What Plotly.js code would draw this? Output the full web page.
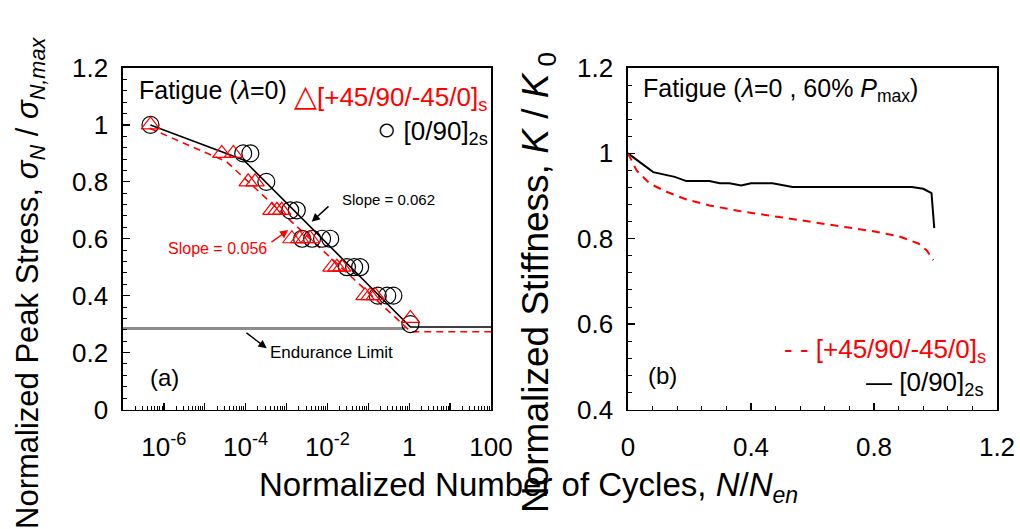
<!DOCTYPE html>
<html>
<head>
<meta charset="utf-8">
<script src="https://cdn.plot.ly/plotly-3.0.1.min.js"></script>
<style>html,body{margin:0;padding:0;background:#fff;}#chart{width:1020px;height:529px;}</style>
</head>
<body>
<div id="chart"></div>
<script>
// ---------- Panel (a): S-N data ----------
const cyclesCrossPly = [4.7e-7, 8.7e-5, 1.3e-4, 3.2e-4, 1.23e-3, 1.78e-3, 2.4e-3, 4.2e-3, 7.4e-3, 1.17e-2, 0.030, 0.045, 0.063, 0.17, 0.29, 0.41, 1.07];
const stressCrossPly = [1.0, 0.9, 0.9, 0.8, 0.7, 0.7, 0.6, 0.6, 0.6, 0.6, 0.5, 0.5, 0.5, 0.4, 0.4, 0.4, 0.3];
const cyclesQuasi = [4.7e-7, 2.6e-5, 5.0e-5, 1.15e-4, 1.7e-4, 4.4e-4, 5.8e-4, 7.6e-4, 1.35e-3, 2.1e-3, 2.8e-3, 3.8e-3, 0.0129, 0.017, 0.0224, 0.083, 0.11, 0.148, 1.07];
const stressQuasi = [1.0, 0.9, 0.9, 0.8, 0.8, 0.7, 0.7, 0.7, 0.6, 0.6, 0.6, 0.6, 0.5, 0.5, 0.5, 0.4, 0.4, 0.4, 0.32];
const fitCrossPlyX = [4.7e-7, 8.9e-5, 1.07, 100];
const fitCrossPlyY = [1.0, 0.877, 0.29, 0.29];
const fitQuasiX = [4.5e-7, 3.4e-5, 1.1, 100];
const fitQuasiY = [0.988, 0.871, 0.273, 0.273];
const enduranceX = [1e-7, 0.8];
const enduranceY = [0.285, 0.285];

// ---------- Panel (b): stiffness degradation ----------
const lifeCrossPly = [0, 0.082, 0.152, 0.19, 0.265, 0.298, 0.33, 0.368, 0.40, 0.47, 0.535, 0.923, 0.96, 0.987, 0.996];
const stiffCrossPly = [1.0, 0.956, 0.945, 0.935, 0.935, 0.93, 0.93, 0.925, 0.93, 0.93, 0.921, 0.921, 0.917, 0.907, 0.825];
const lifeQuasi = [0, 0.028, 0.071, 0.125, 0.19, 0.265, 0.362, 0.47, 0.578, 0.686, 0.793, 0.88, 0.944, 0.971, 0.993];
const stiffQuasi = [1.0, 0.96, 0.929, 0.91, 0.892, 0.878, 0.865, 0.853, 0.842, 0.83, 0.818, 0.806, 0.789, 0.773, 0.75];

// tick labels
const logTickVals = [1e-7, 1e-6, 1e-5, 1e-4, 1e-3, 1e-2, 1e-1, 1, 10, 100];
const logTickText = ['', '10<sup>-6</sup>', '', '10<sup>-4</sup>', '', '10<sup>-2</sup>', '', '1', '', '100'];

const RED = '#ff0000';
const FONT = 'Liberation Sans, Arial, sans-serif';

// minor tick positions for the log axis (2..9 x 10^k)
const minorLog = [];
for (let k = -7; k < 2; k++) { for (let m = 2; m <= 9; m++) minorLog.push(m * Math.pow(10, k)); }

const traces = [
  {x: enduranceX, y: enduranceY, mode: 'lines', line: {color: '#8c8c8c', width: 3}, xaxis: 'x', yaxis: 'y', hoverinfo: 'skip'},
  {x: fitQuasiX, y: fitQuasiY, mode: 'lines', line: {color: RED, width: 1.6, dash: '7px,5px'}, xaxis: 'x', yaxis: 'y'},
  {x: fitCrossPlyX, y: fitCrossPlyY, mode: 'lines', line: {color: '#000', width: 1.6}, xaxis: 'x', yaxis: 'y'},
  {x: cyclesCrossPly, y: stressCrossPly, mode: 'markers', marker: {symbol: 'circle-open', size: 17, color: '#000', line: {width: 1.2}}, xaxis: 'x', yaxis: 'y'},
  {x: cyclesQuasi, y: stressQuasi, mode: 'markers', marker: {symbol: 'triangle-up-open', size: 16, color: RED, line: {width: 1.2}}, xaxis: 'x', yaxis: 'y'},
  {x: lifeCrossPly, y: stiffCrossPly, mode: 'lines', line: {color: '#000', width: 2}, xaxis: 'x2', yaxis: 'y2'},
  {x: lifeQuasi, y: stiffQuasi, mode: 'lines', line: {color: RED, width: 2, dash: '8px,6px'}, xaxis: 'x2', yaxis: 'y2'}
];

const axisCommon = {
  showline: true, linecolor: '#000', linewidth: 1.6, mirror: true,
  ticks: 'inside', tickcolor: '#000', tickwidth: 1.3, ticklen: 7,
  showgrid: false, zeroline: false,
  tickfont: {family: FONT, size: 26, color: '#000'}
};

const W = 1020, H = 529;
const px = v => v / W;
const py = v => (H - v) / H;

const layout = {
  width: W, height: H,
  margin: {l: 0, r: 0, t: 0, b: 0},
  paper_bgcolor: '#fff', plot_bgcolor: '#fff',
  showlegend: false,
  font: {family: FONT, color: '#000'},
  xaxis: Object.assign({}, axisCommon, {
    type: 'log', domain: [px(123), px(491)], range: [-7, 2], anchor: 'y',
    tickmode: 'array', tickvals: logTickVals, ticktext: logTickText, ticklabelstandoff: 14,
    minor: {tickmode: 'array', tickvals: minorLog, ticks: 'inside', ticklen: 4, tickwidth: 1, tickcolor: '#000'}
  }),
  yaxis: Object.assign({}, axisCommon, {
    domain: [py(409.5), py(68)], range: [0, 1.2], dtick: 0.2, anchor: 'x', ticklabelstandoff: 8,
    minor: {dtick: 0.04, ticks: 'inside', ticklen: 4, tickwidth: 1, tickcolor: '#000'}
  }),
  xaxis2: Object.assign({}, axisCommon, {
    domain: [px(628), px(997)], range: [0, 1.2], dtick: 0.4, anchor: 'y2', ticklabelstandoff: 14,
    minor: {dtick: 0.08, ticks: 'inside', ticklen: 4, tickwidth: 1, tickcolor: '#000'}
  }),
  yaxis2: Object.assign({}, axisCommon, {
    domain: [py(409.5), py(68)], range: [0.4, 1.2], dtick: 0.2, anchor: 'x2', ticklabelstandoff: 8,
    minor: {dtick: 0.04, ticks: 'inside', ticklen: 4, tickwidth: 1, tickcolor: '#000'}
  }),
  annotations: [
    // axis titles
    {xref: 'paper', yref: 'paper', x: px(528), y: py(487), xanchor: 'center', yanchor: 'middle', showarrow: false,
     text: 'Normalized Number of Cycles, <i>N</i>/<i>N</i><sub><i>en</i></sub>', font: {size: 33, family: FONT}},
    {xref: 'paper', yref: 'paper', x: px(30), y: py(283), xanchor: 'center', yanchor: 'middle', showarrow: false, textangle: -90,
     text: 'Normalized Peak Stress, <i>σ</i><sub><i>N</i></sub> / <i>σ</i><sub><i>N,max</i></sub>', font: {size: 31, family: FONT}},
    {xref: 'paper', yref: 'paper', x: px(538), y: py(283), xanchor: 'center', yanchor: 'middle', showarrow: false, textangle: -90,
     text: 'Normalized Stiffness, <i>K</i> / <i>K</i><sub> 0</sub>', font: {size: 37, family: FONT}},
    // panel (a) texts
    {xref: 'paper', yref: 'paper', x: px(137), y: py(90), xanchor: 'left', yanchor: 'middle', showarrow: false,
     text: 'Fatigue (<i>λ</i>=0)', font: {size: 25, family: FONT}},
    {xref: 'paper', yref: 'paper', x: px(489), y: py(97), xanchor: 'right', yanchor: 'middle', showarrow: false,
     text: '<span style="font-size:30px">△</span>[+45/90/-45/0]<sub>s</sub>', font: {size: 26, family: FONT, color: RED}},
    {xref: 'paper', yref: 'paper', x: px(490), y: py(130), xanchor: 'right', yanchor: 'middle', showarrow: false,
     text: '<span style="font-size:32px">○</span> [0/90]<sub>2s</sub>', font: {size: 26, family: FONT, color: '#000'}},
    {xref: 'paper', yref: 'paper', x: px(164), y: py(378), xanchor: 'center', yanchor: 'middle', showarrow: false,
     text: '(a)', font: {size: 24, family: FONT}},
    {xref: 'paper', yref: 'paper', x: px(388), y: py(199), xanchor: 'center', yanchor: 'middle', showarrow: false,
     text: 'Slope = 0.062', font: {size: 15, family: FONT, color: '#000'}},
    {xref: 'paper', yref: 'paper', x: px(217), y: py(248), xanchor: 'center', yanchor: 'middle', showarrow: false,
     text: 'Slope = 0.056', font: {size: 16, family: FONT, color: RED}},
    {xref: 'paper', yref: 'paper', x: px(331), y: py(352), xanchor: 'center', yanchor: 'middle', showarrow: false,
     text: 'Endurance Limit', font: {size: 17, family: FONT, color: '#000'}},
    // arrows
    {xref: 'paper', yref: 'paper', x: px(311.7), y: py(221.7), ax: 18.3, ay: -16.7, text: '', showarrow: true,
     arrowhead: 2, arrowsize: 1.1, arrowwidth: 1.5, arrowcolor: '#000'},
    {xref: 'paper', yref: 'paper', x: px(288.3), y: py(230), ax: -18.3, ay: 13.3, text: '', showarrow: true,
     arrowhead: 2, arrowsize: 1.1, arrowwidth: 1.5, arrowcolor: RED},
    {xref: 'paper', yref: 'paper', x: px(266.7), y: py(348.3), ax: -21.7, ay: -16.6, text: '', showarrow: true,
     arrowhead: 2, arrowsize: 1.1, arrowwidth: 1.5, arrowcolor: '#000'},
    // panel (b) texts
    {xref: 'paper', yref: 'paper', x: px(641), y: py(90), xanchor: 'left', yanchor: 'middle', showarrow: false,
     text: 'Fatigue (<i>λ</i>=0 , 60% <i>P</i><sub>max</sub>)', font: {size: 25, family: FONT}},
    {xref: 'paper', yref: 'paper', x: px(988), y: py(350), xanchor: 'right', yanchor: 'middle', showarrow: false,
     text: '- - [+45/90/-45/0]<sub>s</sub>', font: {size: 26, family: FONT, color: RED}},
    {xref: 'paper', yref: 'paper', x: px(986), y: py(383), xanchor: 'right', yanchor: 'middle', showarrow: false,
     text: '— [0/90]<sub>2s</sub>', font: {size: 26, family: FONT, color: '#000'}},
    {xref: 'paper', yref: 'paper', x: px(662), y: py(375), xanchor: 'center', yanchor: 'middle', showarrow: false,
     text: '(b)', font: {size: 24, family: FONT}}
  ]
};

Plotly.newPlot('chart', traces, layout, {staticPlot: true, displayModeBar: false});
</script>
</body>
</html>
